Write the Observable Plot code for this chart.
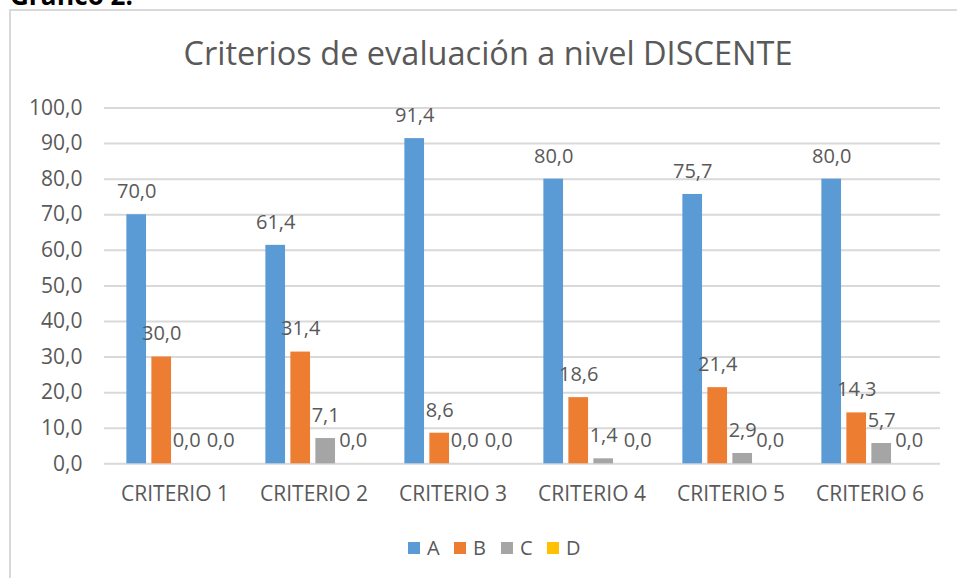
<!DOCTYPE html>
<html><head><meta charset="utf-8">
<script src="https://cdn.jsdelivr.net/npm/d3@7"></script>
<script src="https://cdn.jsdelivr.net/npm/@observablehq/plot@0.6"></script>
<style>
body{margin:0;background:#fff;width:957px;height:578px;overflow:hidden;position:relative;font-family:"Open Sans",sans-serif;}
#chart,#overlay{position:absolute;left:0;top:0;}
</style>
</head><body>
<div id="chart"></div>
<svg id="overlay" width="957" height="578"></svg>
<script>
const criterios = ["CRITERIO 1","CRITERIO 2","CRITERIO 3","CRITERIO 4","CRITERIO 5","CRITERIO 6"];
const series = ["A","B","C","D"];
const valoresA = [70.0, 61.4, 91.4, 80.0, 75.7, 80.0];
const valoresB = [30.0, 31.4, 8.6, 18.6, 21.4, 14.3];
const valoresC = [0.0, 7.1, 0.0, 1.4, 2.9, 5.7];
const valoresD = [0.0, 0.0, 0.0, 0.0, 0.0, 0.0];
const yTicks = [0,10,20,30,40,50,60,70,80,90,100];
const colores = ["#5B9BD5","#ED7D31","#A5A5A5","#FFC000"];

const valores = [valoresA, valoresB, valoresC, valoresD];
const fmt = d => d.toFixed(1).replace(".", ",");

const W = 957, H = 578;
const mL = 104, mR = 17, mT = 107.5, mB = 114.7;
const bandW = (W - mL - mR) / criterios.length;
const barW = 20, gap = 25;
const offsets = series.map((s, i) => (i - 1.5) * gap - 0.8);

const marks = [Plot.ruleY(yTicks, {stroke: "#D9D9D9", strokeWidth: 2})];
series.forEach((s, i) => {
  const data = criterios.map((c, j) => ({criterio: c, serie: s, valor: valores[i][j], j}));
  const off = offsets[i];
  marks.push(Plot.barY(data, {
    x: "criterio", y: "valor", fill: colores[i],
    insetLeft: bandW / 2 + off - barW / 2,
    insetRight: bandW / 2 - off - barW / 2
  }));
  const textOpts = {x: "criterio", y: "valor", text: d => fmt(d.valor), dy: -23, fill: "#595959", fontSize: 20};
  if (i === 3) {
    // nudge the last label right when it would collide with the previous series' label
    const prev = valores[2];
    marks.push(Plot.text(data.filter(d => Math.abs(prev[d.j] - d.valor) < 2), {...textOpts, dx: off + 9}));
    marks.push(Plot.text(data.filter(d => Math.abs(prev[d.j] - d.valor) >= 2), {...textOpts, dx: off + 2.5}));
  } else {
    marks.push(Plot.text(data, {...textOpts, dx: off}));
  }
});

const chart = Plot.plot({
  width: W, height: H,
  marginLeft: mL, marginRight: mR, marginTop: mT, marginBottom: mB,
  style: {fontFamily: "'Open Sans', sans-serif", background: "transparent", color: "#595959"},
  x: {domain: criterios, padding: 0, label: null, tickSize: 0, tickPadding: 22, tickFormat: d => d},
  y: {domain: [0, 100], ticks: yTicks, label: null, tickSize: 0, tickPadding: 22, tickFormat: fmt},
  marks
});
chart.querySelectorAll('g[aria-label="x-axis tick label"], g[aria-label="y-axis tick label"]').forEach(g => {g.setAttribute("font-size", "21"); g.setAttribute("fill", "#595959");});
document.getElementById("chart").appendChild(chart);

const ov = d3.select("#overlay");
ov.append("path").attr("d", "M10,600 L10,10 L960,10").attr("fill", "none").attr("stroke", "#D9D9D9").attr("stroke-width", 2);
ov.append("text").attr("x", 10).attr("y", 5).attr("font-weight", "bold").attr("font-size", 26)
  .attr("font-family", "'Open Sans', sans-serif").attr("fill", "#000").text("Gráfico 2.");
ov.append("text").attr("x", 488).attr("y", 65).attr("text-anchor", "middle").attr("font-size", 32.5)
  .attr("font-family", "'Open Sans', sans-serif").attr("fill", "#595959").text("Criterios de evaluación a nivel DISCENTE");
const legX = [408, 454, 501, 547];
series.forEach((s, i) => {
  ov.append("rect").attr("x", legX[i]).attr("y", 542).attr("width", 12).attr("height", 12).attr("fill", colores[i]);
  ov.append("text").attr("x", legX[i] + 19).attr("y", 555).attr("font-size", 20)
    .attr("font-family", "'Open Sans', sans-serif").attr("fill", "#595959").text(s);
});
</script>
</body></html>
